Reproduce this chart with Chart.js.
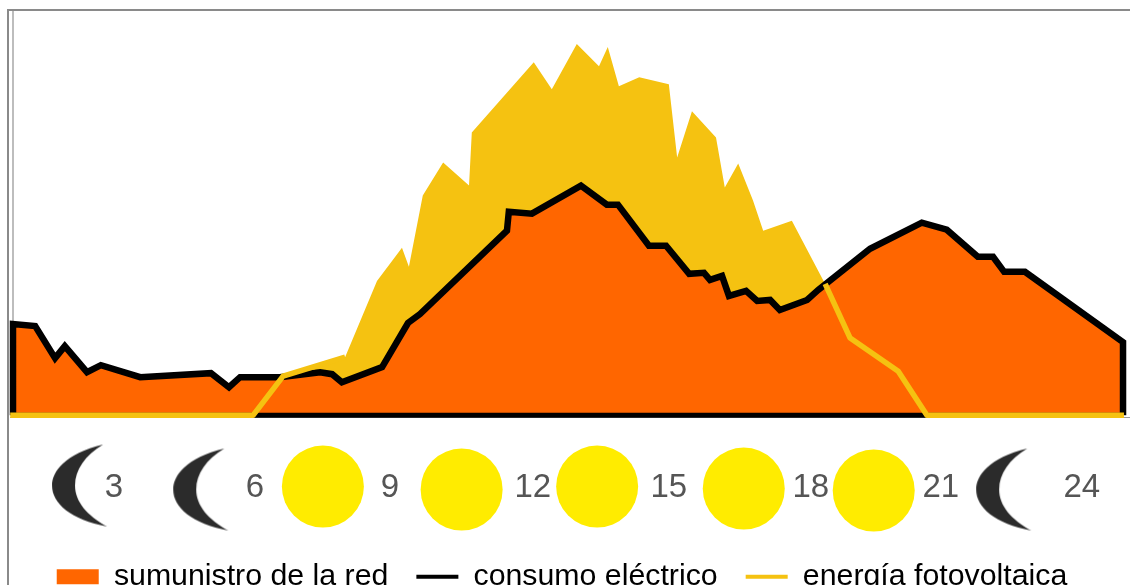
<!DOCTYPE html>
<html lang="es">
<head>
<meta charset="utf-8">
<title>Consumo eléctrico y energía fotovoltaica</title>
<script src="https://cdn.jsdelivr.net/npm/chart.js@4"></script>
<style>
  html, body { margin: 0; padding: 0; width: 1130px; height: 585px; overflow: hidden; background: #fff; }
  #marco { position: absolute; left: 7px; top: 9px; width: 1123px; height: 576px; border-left: 2px solid #8a8a8a; border-top: 2px solid #8a8a8a; box-sizing: border-box; }
  #interior { position: absolute; left: 12px; top: 11px; width: 2px; height: 403px; background: #bdbdbd; }
  #suelo { position: absolute; left: 10px; top: 417px; width: 1120px; height: 1px; background: #9a9a9a; }
  canvas { position: absolute; left: 0; top: 0; }
</style>
</head>
<body>
<div id="marco"></div>
<div id="interior"></div>
<div id="suelo"></div>
<canvas id="grafico" width="1130" height="602"></canvas>
<script>
// hour of the day, and demand in relative units
const consumoHoras = [0, 0, 0.48, 0.91, 1.12, 1.60, 1.90, 2.75, 4.28, 4.67, 4.91, 5.77, 6.64, 6.90, 7.11, 7.98,
  8.54, 8.80, 10.68, 10.72, 11.22, 12.28, 12.84, 13.08, 13.75, 14.12, 14.62, 14.94, 15.07, 15.33, 15.48, 15.85,
  16.09, 16.37, 16.58, 17.17, 17.41, 18.53, 19.65, 20.19, 20.86, 21.19, 21.43, 21.88, 24, 24];
const consumoValores = [0, 22.75, 22.25, 14.25, 17.25, 10.75, 12.5, 9.5, 10.5, 7, 9.5, 9.5, 10.75, 10.25, 8.25, 12,
  23, 25.25, 46, 50.75, 50.25, 57.25, 52.5, 52.5, 42.25, 42.25, 35.25, 35.5, 33.75, 34.75, 29.75, 31,
  28.5, 28.75, 26.25, 28.75, 31.25, 41.5, 48, 46.25, 39.5, 39.5, 35.75, 35.75, 18.25, 0];

const solarHoras = [-0.06, 5.19, 5.84, 7.18, 7.87, 8.41, 8.56, 8.86, 9.30, 9.86, 9.92, 11.26, 11.65, 12.19, 12.67, 12.86,
  13.10, 13.54, 14.18, 14.36, 14.68, 15.20, 15.39, 15.68, 16, 16.22, 16.84, 17.56, 18.10, 19.14, 19.76, 24.02];
const solarValores = [0, 0, 9.75, 14.5, 33.5, 41.75, 37, 54.75, 63, 57.25, 70.5, 88, 81.25, 92.5, 87, 91.75,
  82, 84.25, 82.5, 64.25, 75.75, 69.25, 56.75, 62.75, 53.5, 46, 48.5, 32.75, 19.25, 11, 0, 0];

const baseHoras = [0, 24];
const baseValores = [0, 0];

// the hour labels sit by hand under the chart, not on their true hour
const etiquetasHora = ['3', '6', '9', '12', '15', '18', '21', '24'];
const etiquetasSitio = [2.18, 5.23, 8.15, 11.24, 14.18, 17.25, 20.06, 23.11];

const solesHoras = [6.70, 9.70, 12.63, 15.80, 18.61];
const solesNivel = [-17.75, -18.5, -17.75, -18.25, -18.75];
const lunasHoras = [1.45, 4.07, 21.43];
const lunasNivel = [-17.5, -18.5, -18.5];

const leyenda = ['sumunistro de la red', 'consumo eléctrico', 'energía fotovoltaica'];

const NARANJA = '#ff6600';
const AMARILLO = '#f5c211';

function puntos(xs, ys) {
  return xs.map((x, i) => ({ x: x, y: ys[i] }));
}

function crearLuna() {
  const c = document.createElement('canvas');
  c.width = 58;
  c.height = 84;
  const g = c.getContext('2d');
  g.fillStyle = '#2b2b2b';
  g.beginPath();
  g.moveTo(52, 1);
  g.bezierCurveTo(14, 10, 1, 28, 1, 42);
  g.bezierCurveTo(1, 60, 20, 76, 56, 83);
  g.bezierCurveTo(36, 72, 24, 58, 24, 42);
  g.bezierCurveTo(24, 26, 34, 12, 52, 1);
  g.fill();
  return c;
}

// first and last stretch of the solar curve keep the outline, the rest is only fill
const tramoIni = solarHoras.indexOf(7.18);
const tramoFin = solarHoras.indexOf(17.56);

// nudge the legend a little to the left, the original one is not centred
const moverLeyenda = {
  id: 'moverLeyenda',
  afterLayout(chart) {
    chart.legend.left -= 3;
    chart.legend.right -= 3;
  }
};

new Chart(document.getElementById('grafico'), {
  type: 'scatter',
  plugins: [moverLeyenda],
  data: {
    datasets: [
      { label: 'soles', data: puntos(solesHoras, solesNivel), pointStyle: 'circle', pointRadius: 41,
        pointBackgroundColor: '#ffec00', pointBorderWidth: 0, order: 6, clip: false },
      { label: 'lunas', data: puntos(lunasHoras, lunasNivel), pointStyle: crearLuna(), order: 6, clip: false },
      { label: 'solar relleno', data: puntos(solarHoras, solarValores), showLine: true, pointRadius: 0, borderWidth: 0,
        borderColor: 'transparent', backgroundColor: AMARILLO, fill: 'origin', order: 5 },
      { label: leyenda[1], data: puntos(consumoHoras, consumoValores), showLine: true, pointRadius: 0, borderWidth: 6.5,
        borderColor: '#000', borderJoinStyle: 'miter', backgroundColor: NARANJA, fill: 'origin', order: 3, clip: false },
      { label: 'base', data: puntos(baseHoras, baseValores), showLine: true, pointRadius: 0, borderWidth: 5,
        borderColor: '#000', order: 2, clip: false },
      { label: leyenda[2], data: puntos(solarHoras, solarValores), showLine: true, pointRadius: 0, borderWidth: 5.5,
        borderColor: AMARILLO, borderJoinStyle: 'round', order: 1, clip: false,
        segment: {
          borderColor: ctx => (ctx.p0DataIndex >= tramoIni && ctx.p1DataIndex <= tramoFin) ? 'transparent' : AMARILLO
        } }
    ]
  },
  options: {
    responsive: false,
    animation: false,
    layout: { autoPadding: false, padding: { left: 0, right: 0, top: 10, bottom: 0 } },
    scales: {
      x: {
        type: 'linear',
        min: -0.281,
        max: 24.151,
        position: { y: 0 },
        grid: { display: false },
        border: { display: false },
        afterBuildTicks: axis => { axis.ticks = etiquetasSitio.map(v => ({ value: v })); },
        afterFit: axis => { axis.paddingLeft = 0; axis.paddingRight = 0; },
        ticks: {
          autoSkip: false,
          maxRotation: 0,
          padding: 45,
          color: '#555',
          font: { family: '"Liberation Sans"', size: 33 },
          callback: (v, i) => etiquetasHora[i]
        }
      },
      y: { display: false, min: -29.5, max: 101 }
    },
    plugins: {
      tooltip: { enabled: false },
      legend: {
        position: 'bottom',
        labels: {
          usePointStyle: true,
          pointStyleWidth: 42,
          boxHeight: 15,
          padding: 28,
          color: '#1a1a1a',
          font: { family: '"Liberation Sans"', size: 30.3 },
          generateLabels: () => [
            { text: leyenda[0], fillStyle: NARANJA, strokeStyle: NARANJA, lineWidth: 0, pointStyle: 'rect', hidden: false },
            { text: leyenda[1], fillStyle: '#000', strokeStyle: '#000', lineWidth: 4, pointStyle: 'line', hidden: false },
            { text: leyenda[2], fillStyle: AMARILLO, strokeStyle: AMARILLO, lineWidth: 4, pointStyle: 'line', hidden: false }
          ]
        }
      }
    }
  }
});
</script>
</body>
</html>
